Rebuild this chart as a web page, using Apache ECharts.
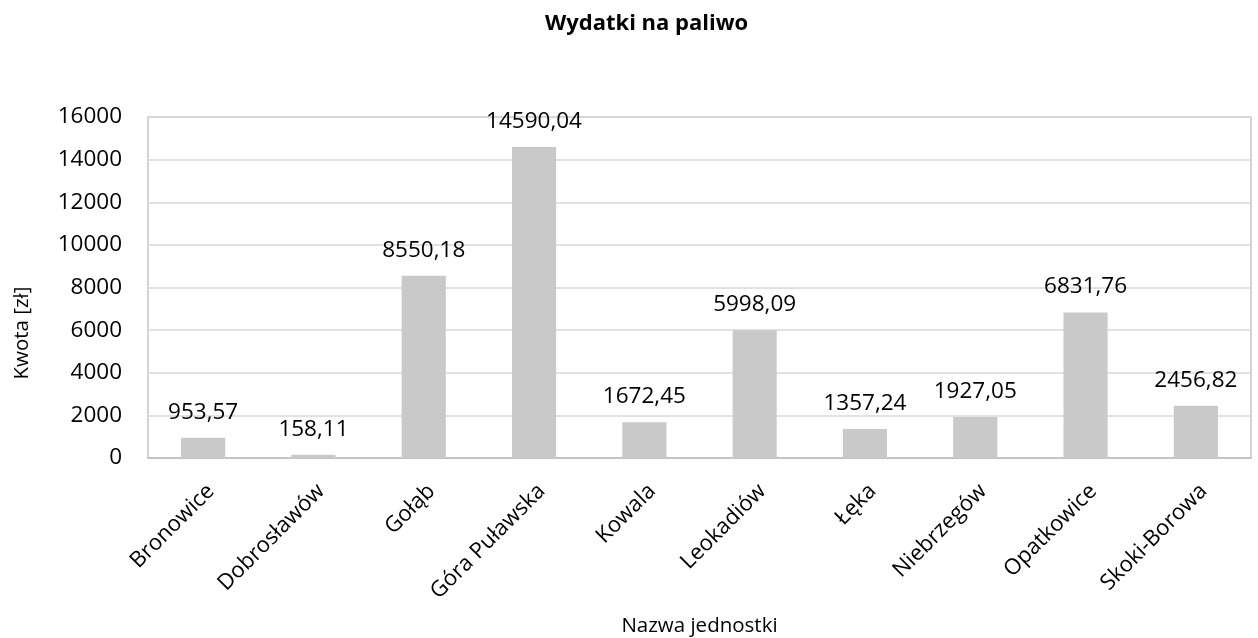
<!DOCTYPE html>
<html>
<head>
<meta charset="utf-8">
<script src="https://cdn.jsdelivr.net/npm/echarts@6/dist/echarts.min.js"></script>
<style>html,body{margin:0;padding:0;background:#fff}#c{width:1258px;height:638px}</style>
</head>
<body>
<div id="c"></div>
<script>
const categories = ['Bronowice','Dobrosławów','Gołąb','Góra Puławska','Kowala','Leokadiów','Łęka','Niebrzegów','Opatkowice','Skoki-Borowa'];
const values = [953.57, 158.11, 8550.18, 14590.04, 1672.45, 5998.09, 1357.24, 1927.05, 6831.76, 2456.82];
const yTicks = [0, 2000, 4000, 6000, 8000, 10000, 12000, 14000, 16000];

const FONT = '"Open Sans", sans-serif';
const chart = echarts.init(document.getElementById('c'), null, {renderer: 'canvas'});
chart.setOption({
  animation: false,
  title: {
    text: 'Wydatki na paliwo', left: 540, top: 8,
    textStyle: {fontFamily: FONT, fontSize: 22, fontWeight: 'bold', color: '#000'}
  },
  grid: {left: 148, right: 7, top: 117, bottom: 180, outerBoundsMode: 'none', containLabel: false,
         show: true, borderColor: '#c6c6c6', borderWidth: 1.5},
  xAxis: {
    type: 'category', data: categories,
    name: 'Nazwa jednostki', nameLocation: 'middle', nameGap: 158,
    nameTextStyle: {fontFamily: FONT, fontSize: 20.5, color: '#000'},
    axisLine: {lineStyle: {color: '#bfbfbf', width: 1.5}},
    axisTick: {show: false},
    axisLabel: {rotate: 45, verticalAlign: 'top', fontFamily: FONT, fontSize: 22, color: '#000', margin: 22, interval: 0}
  },
  yAxis: {
    type: 'value', min: yTicks[0], max: yTicks[yTicks.length - 1], interval: 2000,
    axisLine: {show: false}, axisTick: {show: false},
    axisLabel: {fontFamily: FONT, fontSize: 22.5, color: '#000', margin: 26, formatter: v => String(v)},
    splitLine: {lineStyle: {color: '#d9d9d9', width: 1.5}}
  },
  graphic: [{
    type: 'text', x: 22, y: 333, rotation: Math.PI / 2,
    style: {text: 'Kwota [zł]', fontFamily: FONT, fontSize: 20.5, fill: '#000', align: 'center', verticalAlign: 'middle'}
  }],
  series: [{
    type: 'bar', data: values, barWidth: '40%',
    itemStyle: {color: '#c9c9c9'},
    label: {
      show: true, position: 'top', distance: 14,
      fontFamily: FONT, fontSize: 22.5, color: '#000',
      formatter: p => p.value.toFixed(2).replace('.', ',')
    }
  }]
});
</script>
</body>
</html>
